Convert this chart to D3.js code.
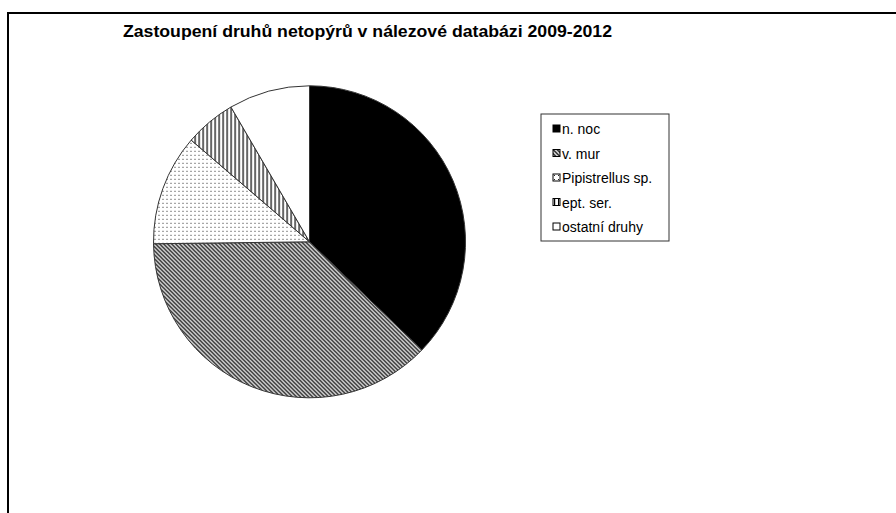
<!DOCTYPE html>
<html>
<head>
<meta charset="utf-8">
<script src="https://cdnjs.cloudflare.com/ajax/libs/d3/7.8.5/d3.min.js"></script>
<style>
  html, body { margin: 0; padding: 0; background: #fff; }
  svg { display: block; }
</style>
</head>
<body>
<svg id="chart" width="896" height="513"></svg>
<script>
// Species share (%) in the find database, 2009-2012
const categories = ["n. noc", "v. mur", "Pipistrellus sp.", "ept. ser.", "ostatní druhy"];
const shares = [37.2, 37.6, 11.5, 5.3, 8.4];
const fills = ["black", "url(#diagDown)", "url(#dots)", "url(#vert)", "white"];
const title = "Zastoupení druhů netopýrů v nálezové databázi 2009-2012";

const svg = d3.select("#chart");
const W = 896, H = 513;

// hatch patterns
const defs = svg.append("defs");
const diag = defs.append("pattern").attr("id", "diagDown")
  .attr("patternUnits", "userSpaceOnUse").attr("width", 4).attr("height", 4);
diag.append("rect").attr("width", 4).attr("height", 4).attr("fill", "white");
diag.append("path").attr("d", "M-1,-1 L5,5 M-1,3 L1,5 M3,-1 L5,1")
  .attr("stroke", "black").attr("stroke-width", 1.3);

const dots = defs.append("pattern").attr("id", "dots")
  .attr("patternUnits", "userSpaceOnUse").attr("width", 4).attr("height", 4);
dots.append("rect").attr("width", 4).attr("height", 4).attr("fill", "white");
dots.append("rect").attr("x", 1).attr("y", 1).attr("width", 1).attr("height", 1).attr("fill", "#222");

const vert = defs.append("pattern").attr("id", "vert")
  .attr("patternUnits", "userSpaceOnUse").attr("width", 4).attr("height", 4);
vert.append("rect").attr("width", 4).attr("height", 4).attr("fill", "white");
vert.append("rect").attr("x", 1).attr("y", 0).attr("width", 1.2).attr("height", 4).attr("fill", "black");

// frame of the chart area
svg.append("rect")
  .attr("x", 8).attr("y", 13).attr("width", W + 20).attr("height", H + 20)
  .attr("fill", "none").attr("stroke", "black").attr("stroke-width", 2);

// title
svg.append("text")
  .attr("x", 123).attr("y", 37)
  .attr("font-family", "'Liberation Sans', Arial, sans-serif")
  .attr("font-weight", "bold").attr("font-size", 16)
  .attr("textLength", 489).attr("lengthAdjust", "spacingAndGlyphs")
  .attr("fill", "black")
  .text(title);

// pie
const cx = 309.5, cy = 241.8, r = 156;
const pie = d3.pie().sort(null).value(d => d.v);
const arc = d3.arc().innerRadius(0).outerRadius(r);
const data = categories.map((c, i) => ({ c, v: shares[i], f: fills[i] }));

const g = svg.append("g").attr("transform", `translate(${cx},${cy})`);
g.selectAll("path.slice")
  .data(pie(data))
  .join("path")
  .attr("class", "slice")
  .attr("d", arc)
  .attr("fill", d => d.data.f)
  .attr("stroke", "#333")
  .attr("stroke-width", 1);

// legend
const lg = svg.append("g").attr("transform", "translate(541,114)");
lg.append("rect").attr("width", 128).attr("height", 127)
  .attr("fill", "white").attr("stroke", "#333").attr("stroke-width", 1);

const y = d3.scalePoint().domain(categories).range([15, 113]);
const items = lg.selectAll("g.item").data(data).join("g")
  .attr("class", "item")
  .attr("transform", d => `translate(12,${y(d.c)})`);
items.append("rect")
  .attr("x", 0).attr("y", -4).attr("width", 7).attr("height", 7)
  .attr("fill", d => d.f).attr("stroke", "black").attr("stroke-width", 1);
items.append("text")
  .attr("x", 9).attr("y", 5)
  .attr("font-family", "'Liberation Sans', Arial, sans-serif")
  .attr("font-size", 14).attr("fill", "black")
  .text(d => d.c);
</script>
</body>
</html>
